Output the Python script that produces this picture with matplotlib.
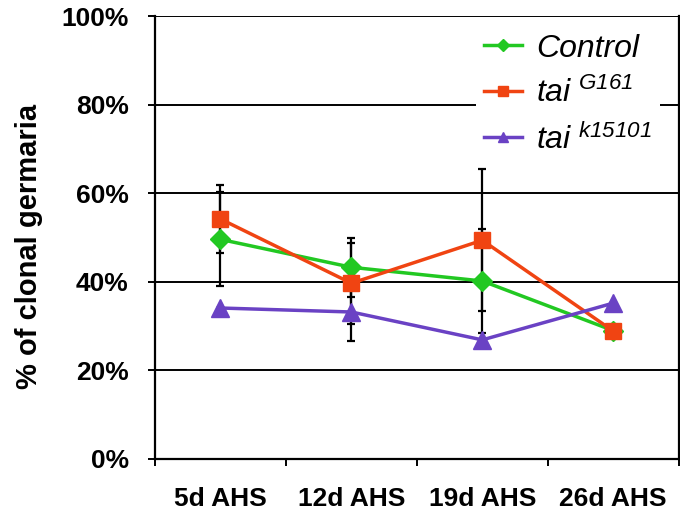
import numpy as np
import matplotlib
matplotlib.use("Agg")
import matplotlib.pyplot as plt
from matplotlib.ticker import FixedLocator, PercentFormatter

plt.rcParams['font.family'] = ['Liberation Sans', 'DejaVu Sans']
plt.rcParams['mathtext.fontset'] = 'custom'
plt.rcParams['mathtext.it'] = 'Liberation Sans:italic'
plt.rcParams['mathtext.rm'] = 'Liberation Sans:italic'

categories = ['5d AHS', '12d AHS', '19d AHS', '26d AHS']
control = [49.6, 43.3, 40.2, 29.0]
control_err = [10.6, 6.6, 11.7, 0.0]
tai_g161 = [54.2, 39.7, 49.4, 28.9]
tai_g161_err = [7.6, 9.1, 16.0, 0.0]
tai_k15101 = [34.1, 33.2, 26.9, 35.2]
tai_k15101_err = [0.0, 6.6, 0.0, 0.0]

labels = ['Control', r'$\mathit{tai}^{\ \mathit{G161}}$', r'$\mathit{tai}^{\ \mathit{k15101}}$']
colors = ['#22c822', '#f04412', '#6a42c4']
markers = ['D', 's', '^']
msizes = [10, 12, 13]

fig = plt.figure(figsize=(6.8, 5.16), dpi=100)
ax = fig.add_axes([0.228, 0.1105, 0.770, 0.858])

x = np.arange(1, len(categories) + 1)
series = [(control, control_err), (tai_g161, tai_g161_err), (tai_k15101, tai_k15101_err)]

for (vals, errs), lab, col, mk, ms in zip(series, labels, colors, markers, msizes):
    ax.errorbar(x, vals, yerr=errs, fmt='none', ecolor='black', elinewidth=1.6,
                capsize=3, capthick=1.6, zorder=3)
for (vals, errs), lab, col, mk, ms in zip(series, labels, colors, markers, msizes):
    ax.plot(x, vals, color=col, marker=mk, markersize=ms, linewidth=2.5,
            label=lab, zorder=4)

ax.set_xlim(0.5, 4.5)
ax.set_ylim(0, 100)
ax.yaxis.set_major_locator(FixedLocator([0, 20, 40, 60, 80, 100]))
ax.yaxis.set_major_formatter(PercentFormatter(decimals=0))
ax.grid(axis='y', color='black', linewidth=1.4)
ax.set_axisbelow(True)

ax.set_xticks(x)
ax.set_xticklabels(categories)
ax.set_xticks([0.5, 1.5, 2.5, 3.5, 4.5], minor=True)
ax.tick_params(axis='x', which='major', length=0, pad=20)
ax.tick_params(axis='x', which='minor', length=5, width=1.4, direction='out')
ax.tick_params(axis='y', length=5, width=1.4, direction='out', pad=14)
for lbl in ax.get_xticklabels() + ax.get_yticklabels():
    lbl.set_fontsize(19)
    lbl.set_fontweight('bold')

for side in ['left', 'bottom', 'right']:
    ax.spines[side].set_linewidth(1.6)
ax.spines['top'].set_visible(False)

ax.set_ylabel('% of clonal germaria', fontsize=21, fontweight='bold')
ax.yaxis.set_label_coords(-0.214, 0.481)

leg = ax.legend(loc='upper right', bbox_to_anchor=(0.995, 1.015), fontsize=23,
                frameon=True, fancybox=False, framealpha=1, edgecolor='none',
                handlelength=1.2, handletextpad=0.45, labelspacing=0.45,
                borderpad=0.25, markerscale=0.6)
for t in leg.get_texts():
    t.set_fontstyle('italic')

fig.savefig('out.png', dpi=100)
